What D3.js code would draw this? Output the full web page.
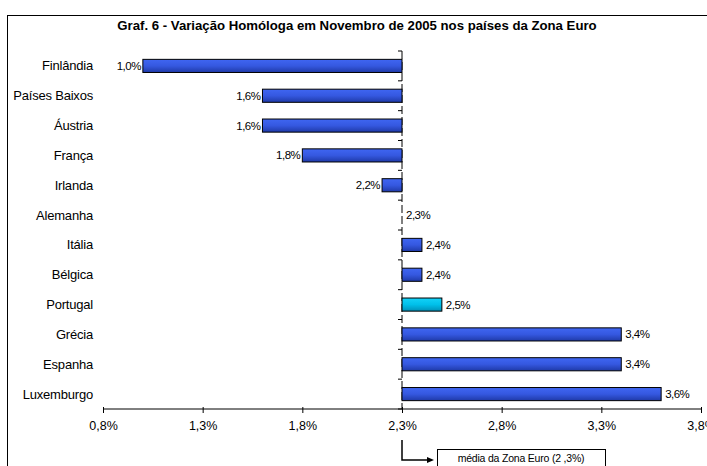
<!DOCTYPE html>
<html>
<head>
<meta charset="utf-8">
<script src="https://cdn.jsdelivr.net/npm/d3@7"></script>
<style>
  body { margin: 0; background: #fff; }
  svg { font-family: "Liberation Sans", Arial, sans-serif; }
</style>
</head>
<body>
<div id="main"></div>
<script>
const paises = ['Finlândia', 'Países Baixos', 'Áustria', 'França', 'Irlanda', 'Alemanha',
  'Itália', 'Bélgica', 'Portugal', 'Grécia', 'Espanha', 'Luxemburgo'];
const variacao = [1.0, 1.6, 1.6, 1.8, 2.2, 2.3, 2.4, 2.4, 2.5, 3.4, 3.4, 3.6];
const mediaZonaEuro = 2.3;
const xTicks = [0.8, 1.3, 1.8, 2.3, 2.8, 3.3, 3.8];
const destaque = 'Portugal';

const config = {div: '#main', width: 707, height: 466, left: 103, right: 701, top: 51, bottom: 409};

const fmt = v => v.toFixed(1).replace('.', ',') + '%';

const svg = d3.select(config.div)
  .append('svg')
  .attr('width', config.width)
  .attr('height', config.height);

// gradientes das barras
const defs = svg.append('defs');
function gradient(id, c1, c2, c3) {
  const g = defs.append('linearGradient').attr('id', id)
    .attr('x1', 0).attr('y1', 0).attr('x2', 0).attr('y2', 1);
  g.append('stop').attr('offset', '0%').attr('stop-color', c1);
  g.append('stop').attr('offset', '50%').attr('stop-color', c2);
  g.append('stop').attr('offset', '100%').attr('stop-color', c3);
}
gradient('azul', '#3f66f2', '#3558e0', '#1f3aa8');
gradient('ciano', '#14d2f8', '#00c0ea', '#0090b8');

// moldura
svg.append('rect')
  .attr('x', 7.5).attr('y', 15.5)
  .attr('width', 720).attr('height', 470)
  .attr('fill', 'none').attr('stroke', '#000').attr('stroke-width', 1);

svg.append('text')
  .attr('x', 357).attr('y', 30)
  .attr('text-anchor', 'middle')
  .style('font-weight', 'bold').style('font-size', '13.2px')
  .text('Graf. 6 - Variação Homóloga em Novembro de 2005 nos países da Zona Euro');

const xScale = d3.scaleLinear().domain([0.8, 3.8]).range([config.left, config.right]);
const yScale = d3.scaleBand().domain(paises).range([config.top, config.bottom])
  .paddingInner(0.56).paddingOuter(0.28);

const x0 = xScale(mediaZonaEuro);
const data = paises.map((p, i) => ({pais: p, valor: variacao[i]}));

// eixo x
const xAxis = d3.axisBottom(xScale).tickValues(xTicks).tickFormat(fmt).tickSize(4).tickPadding(8);
const gx = svg.append('g')
  .attr('transform', `translate(0,${config.bottom})`)
  .call(xAxis);
gx.select('.domain').attr('d', `M${config.left},0H${config.right}`).attr('stroke', '#000');
gx.selectAll('.tick line').attr('y1', -2).attr('y2', 4);
gx.selectAll('text').style('font-size', '12.5px').attr('fill', '#000').style('font-family', '"Liberation Sans", Arial, sans-serif');

// eixo vertical em 2,3% (tracejado)
svg.append('line')
  .attr('x1', x0).attr('x2', x0)
  .attr('y1', config.top).attr('y2', config.bottom)
  .attr('stroke', '#000').attr('stroke-dasharray', '8,3');

const bordas = d3.range(paises.length + 1).map(i => config.top + i * yScale.step());
svg.selectAll('.ytick')
  .data(bordas)
  .enter()
  .append('line')
    .attr('x1', x0 - 4).attr('x2', x0)
    .attr('y1', d => d).attr('y2', d => d)
    .attr('stroke', '#000');

// nomes dos países
svg.selectAll('.pais')
  .data(data)
  .enter()
  .append('text')
    .attr('x', 93)
    .attr('y', d => yScale(d.pais) + yScale.bandwidth() / 2)
    .attr('dy', '0.35em')
    .attr('text-anchor', 'end')
    .style('font-size', '13px')
    .style('letter-spacing', '-0.2px')
    .text(d => d.pais);

// barras
svg.selectAll('.barra')
  .data(data.filter(d => d.valor !== mediaZonaEuro))
  .enter()
  .append('rect')
    .attr('x', d => Math.min(x0, xScale(d.valor)))
    .attr('y', d => yScale(d.pais))
    .attr('width', d => Math.abs(xScale(d.valor) - x0))
    .attr('height', yScale.bandwidth())
    .attr('fill', d => d.pais === destaque ? 'url(#ciano)' : 'url(#azul)')
    .attr('stroke', '#000')
    .attr('stroke-width', 1);

// rótulos dos valores
svg.selectAll('.valor')
  .data(data)
  .enter()
  .append('text')
    .attr('x', d => d.valor < mediaZonaEuro ? xScale(d.valor) - 2 : xScale(d.valor) + 4)
    .attr('y', d => yScale(d.pais) + yScale.bandwidth() / 2)
    .attr('dy', '0.35em')
    .attr('text-anchor', d => d.valor < mediaZonaEuro ? 'end' : 'start')
    .style('font-size', '11.5px')
    .style('letter-spacing', '-0.5px')
    .text(d => fmt(d.valor));

// legenda da média
svg.append('path')
  .attr('d', `M${x0},440V460H428`)
  .attr('fill', 'none').attr('stroke', '#000').attr('stroke-width', 1.5);
svg.append('path')
  .attr('d', 'M434,460L427,457L427,463Z')
  .attr('fill', '#000');
svg.append('rect')
  .attr('x', 437.5).attr('y', 449.5)
  .attr('width', 168).attr('height', 24)
  .attr('fill', '#fff').attr('stroke', '#000');
svg.append('text')
  .attr('x', 521).attr('y', 462)
  .attr('text-anchor', 'middle')
  .style('font-size', '10.5px')
  .style('letter-spacing', '-0.2px')
  .text('média da Zona Euro (2 ,3%)');
</script>
</body>
</html>
